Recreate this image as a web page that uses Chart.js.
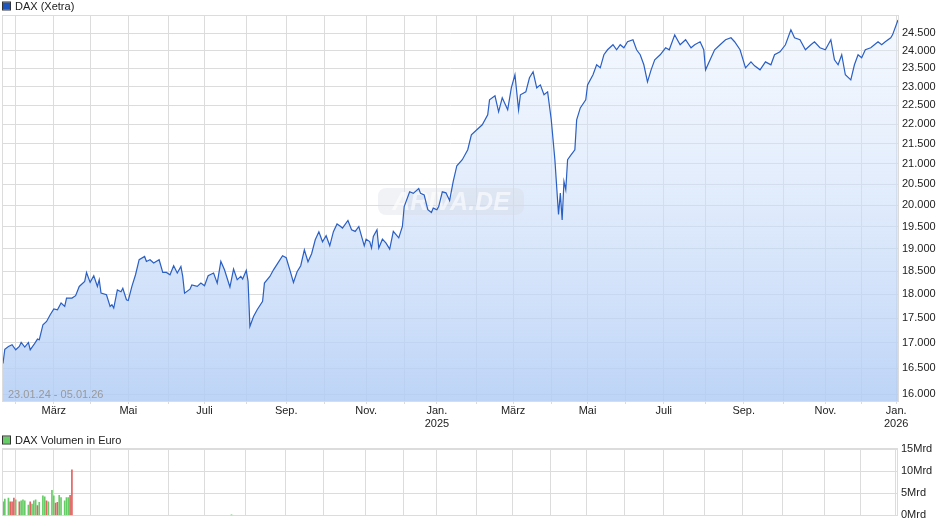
<!DOCTYPE html>
<html>
<head>
<meta charset="utf-8">
<script src="https://cdn.jsdelivr.net/npm/chart.js@4.4.1/dist/chart.umd.min.js"></script>
<style>
  body { margin: 0; background: #fff; }
  #wrap { position: relative; width: 940px; height: 526px; }
  canvas { position: absolute; left: 0; }
</style>
</head>
<body>
<div id="wrap">
  <canvas id="price_plot" width="940" height="430" style="top:0"></canvas>
  <canvas id="volume_plot" width="940" height="96" style="top:430px"></canvas>
</div>
<script>
// trading days between first and last quote (Xetra calendar)
const firstDay = '2024-01-23';
const lastDay = '2026-01-05';
const holidays = ['2024-03-29', '2024-04-01', '2024-05-01', '2024-12-24', '2024-12-25', '2024-12-26',
  '2024-12-31', '2025-01-01', '2025-04-18', '2025-04-21', '2025-05-01', '2025-12-24', '2025-12-25',
  '2025-12-26', '2025-12-31', '2026-01-01'];
const monthNames = ['Jan.', 'Feb.', 'März', 'April', 'Mai', 'Juni', 'Juli', 'Aug.', 'Sep.', 'Okt.', 'Nov.', 'Dez.'];

// DAX closes, x = trading day number since 23.01.24
const priceDay = [0, 1, 3, 5, 7, 9, 10, 12, 14, 15, 17, 19, 20, 22, 24, 26, 28, 30, 32, 34, 35, 38, 40, 42, 45, 46,
  48, 50, 52, 53, 54, 57, 59, 60, 61, 63, 65, 66, 68, 69, 71, 73, 75, 78, 79, 81, 83, 86, 88, 90, 92, 94, 96, 98, 99,
  100, 103, 104, 107, 109, 111, 113, 116, 118, 120, 122, 125, 127, 129, 131, 132, 134, 135, 136, 138, 140, 143, 144,
  147, 149, 152, 154, 156, 158, 160, 162, 164, 166, 168, 170, 172, 174, 176, 178, 180, 182, 184, 186, 187, 190, 192,
  194, 196, 199, 200, 202, 203, 204, 206, 207, 209, 211, 213, 215, 218, 220, 221, 224, 226, 229, 230, 232, 234, 236,
  237, 239, 240, 242, 244, 246, 248, 250, 253, 256, 258, 261, 264, 267, 268, 271, 273, 275, 278, 280, 282, 284, 285,
  288, 290, 292, 294, 296, 298, 300, 302, 304, 306, 307, 308, 309, 310, 311, 313, 315, 316, 318, 321, 322, 325, 327,
  329, 331, 333, 336, 338, 340, 342, 344, 347, 349, 351, 353, 355, 357, 359, 362, 365, 367, 370, 373, 376, 379, 381,
  384, 386, 387, 390, 392, 395, 398, 401, 403, 406, 409, 412, 414, 417, 420, 423, 425, 428, 431, 434, 436, 439, 442,
  445, 447, 450, 453, 456, 458, 460, 462, 464, 467, 469, 471, 473, 475, 478, 480, 482, 484, 486, 489, 490, 493];
const priceVals = [16590, 16870, 16925, 16960, 16860, 16925, 17005, 16913, 17005, 16860, 16960, 17073, 17060, 17365,
  17433, 17571, 17690, 17675, 17815, 17745, 17920, 17920, 17970, 18168, 18276, 18470, 18255, 18400, 18168, 18313,
  18025, 17990, 17745, 17780, 17710, 18093, 18056, 18130, 17885, 17870, 18168, 18420, 18750, 18823, 18712, 18750,
  18677, 18750, 18470, 18470, 18420, 18617, 18457, 18602, 18384, 18025, 18109, 18200, 18168, 18240, 18183, 18400,
  18457, 18240, 18712, 18528, 18155, 18543, 18313, 18384, 18328, 18513, 18276, 17330, 17535, 17675, 17850, 18240,
  18384, 18528, 18712, 18839, 18794, 18528, 18255, 18485, 18617, 18971, 18706, 18883, 19197, 19380, 19152, 19288,
  19060, 19380, 19560, 19500, 19464, 19640, 19425, 19387, 19500, 19060, 19210, 19155, 19010, 19273, 19425, 19010,
  19210, 19120, 18985, 19387, 19240, 19500, 19965, 20315, 20277, 20395, 20277, 20238, 19890, 19825, 19928, 19890,
  19965, 20315, 20290, 20105, 20565, 20950, 21100, 21349, 21730, 21860, 21987, 22250, 22645, 22752, 22327, 22699,
  22380, 22968, 23324, 22380, 22780, 22860, 23241, 23407, 22968, 23048, 22780, 22860, 22118, 21100, 19777, 20284,
  19652, 20564, 20364, 21100, 21225, 21349, 22118, 22430, 22645, 23048, 23324, 23601, 23517, 23882, 24023, 24166,
  24023, 24166, 24080, 24252, 24309, 24023, 23882, 23601, 23130, 23461, 23742, 23882, 24080, 24023, 24450, 24166,
  24309, 24080, 24166, 24252, 24023, 23461, 23798, 24023, 24166, 24309, 24366, 24252, 24023, 23517, 23683, 23572,
  23461, 23683, 23601, 23882, 23966, 24166, 24596, 24366, 24309, 24023, 24166, 24252, 24080, 24023, 24309, 23742,
  23601, 23882, 23324, 23186, 23601, 23882, 23798, 24023, 24080, 24166, 24252, 24166, 24252, 24366, 24450, 24880];

// volume in Mrd Euro, up = index closed higher that day
const volDay = [0, 1, 3, 4, 5, 6, 7, 9, 10, 11, 12, 14, 15, 16, 17, 18, 19, 20, 22, 23, 24, 25, 27, 28, 29, 30, 31,
  32, 34, 35, 36, 37, 38, 126];
const volVals = [3.08, 3.68, 3.9, 3.08, 3.08, 3.9, 3.52, 3.08, 3.3, 3.52, 3.3, 2.35, 3.08, 2.58, 3.3, 3.52, 2.2, 2.94,
  4.4, 4.19, 3.3, 3.08, 5.66, 4.4, 2.8, 2.94, 4.56, 4.04, 3.3, 4.04, 4.04, 4.56, 10.3, 0.15];
const volUp = [false, true, true, false, false, false, true, false, true, true, true, true, false, true, true, true,
  false, true, true, true, false, true, true, true, false, false, true, true, true, true, true, false, false, true];

const priceTicks = [16000, 16500, 17000, 17500, 18000, 18500, 19000, 19500, 20000, 20500, 21000, 21500, 22000,
  22500, 23000, 23500, 24000, 24500];
const volTicks = [0, 5, 10, 15];

Chart.defaults.font.family = '"Liberation Sans", Arial, sans-serif';
Chart.defaults.font.size = 11;
Chart.defaults.color = '#222';

function tradingDays(start, end) {
  let days = [];
  let d = new Date(start + 'T00:00:00Z');
  const stop = new Date(end + 'T00:00:00Z');
  while (d <= stop) {
    let wd = d.getUTCDay();
    let iso = d.toISOString().slice(0, 10);
    if (wd != 0 && wd != 6 && holidays.indexOf(iso) < 0) days.push(iso);
    d.setUTCDate(d.getUTCDate() + 1);
  }
  return days;
}

const days = tradingDays(firstDay, lastDay);
const monthStarts = [];
for (let i = 1; i < days.length; i++) {
  if (days[i].slice(5, 7) != days[i - 1].slice(5, 7)) {
    monthStarts.push({ idx: i, month: parseInt(days[i].slice(5, 7)) - 1, year: days[i].slice(0, 4) });
  }
}

function monthLabel(m) {
  if (m.month % 2 == 1) return '';
  if (m.month == 0) return [monthNames[0], m.year];
  return monthNames[m.month];
}

function fmtThousands(v) {
  return String(v).replace(/\B(?=(\d{3})+(?!\d))/g, '.');
}

function shortDate(iso) {
  return iso.slice(8, 10) + '.' + iso.slice(5, 7) + '.' + iso.slice(2, 4);
}

// small square + text in the top left corner
const boxLegend = {
  id: 'boxLegend',
  afterDraw(chart, args, opts) {
    const ctx = chart.ctx;
    ctx.save();
    ctx.fillStyle = opts.color;
    ctx.fillRect(3, opts.y - 3.5, 7, 7);
    ctx.strokeStyle = '#333';
    ctx.lineWidth = 1;
    ctx.strokeRect(2.5, opts.y - 4, 8, 8);
    ctx.fillStyle = '#222';
    ctx.font = '11px "Liberation Sans", Arial, sans-serif';
    ctx.textBaseline = 'middle';
    ctx.fillText(opts.text, 15, opts.y + 0.5);
    ctx.restore();
  }
};

const plotFrame = {
  id: 'plotFrame',
  beforeDatasetsDraw(chart) {
    const a = chart.chartArea, ctx = chart.ctx;
    ctx.save();
    ctx.strokeStyle = '#dcdcdc';
    ctx.lineWidth = 1;
    ctx.strokeRect(Math.round(a.left) - 0.5, Math.round(a.top) - 0.5, Math.round(a.right - a.left) + 1, Math.round(a.bottom - a.top) + 1);
    ctx.restore();
  }
};

const watermark = {
  id: 'watermark',
  beforeDatasetsDraw(chart) {
    const ctx = chart.ctx;
    ctx.save();
    ctx.fillStyle = 'rgba(215, 218, 225, 0.35)';
    ctx.beginPath();
    ctx.roundRect(378, 188, 146, 27, 8);
    ctx.fill();
    ctx.fillStyle = 'rgba(255, 255, 255, 0.6)';
    ctx.font = 'italic bold 25px "Liberation Sans", Arial, sans-serif';
    ctx.textAlign = 'center';
    ctx.textBaseline = 'middle';
    ctx.fillText('ARIVA.DE', 451, 203);
    ctx.restore();
  },
  afterDatasetsDraw(chart) {
    const ctx = chart.ctx;
    ctx.save();
    ctx.fillStyle = '#999';
    ctx.font = '11px "Liberation Sans", Arial, sans-serif';
    ctx.textBaseline = 'middle';
    ctx.fillText(shortDate(days[0]) + ' - ' + shortDate(days[days.length - 1]), 8, chart.chartArea.bottom - 6);
    ctx.restore();
  }
};

function monthGridX(showLabels) {
  return {
    type: 'linear',
    min: 0,
    max: days.length - 1,
    offset: false,
    afterBuildTicks: (scale) => { scale.ticks = monthStarts.map(m => ({ value: m.idx })); },
    afterFit: (scale) => { scale.height = showLabels ? 29 : 9; },
    grid: { color: '#dcdcdc', tickLength: 3, drawTicks: showLabels, offset: false },
    border: { display: false },
    ticks: {
      display: showLabels,
      autoSkip: false,
      maxRotation: 0,
      padding: 0,
      color: '#222',
      callback: (v, i) => monthLabel(monthStarts[i])
    }
  };
}

function plotPrice() {
  let ctx = document.getElementById('price_plot');
  window.price_plot = new Chart(ctx, {
    type: 'line',
    data: {
      datasets: [{
        label: 'DAX (Xetra)',
        data: priceDay.map((d, i) => ({ x: d, y: priceVals[i] })),
        borderColor: '#2a5fc4',
        borderWidth: 1.2,
        pointRadius: 0,
        tension: 0,
        fill: 'start',
        backgroundColor: (c) => {
          const a = c.chart.chartArea;
          if (!a) return 'rgba(190,212,248,0.5)';
          const g = c.chart.ctx.createLinearGradient(0, a.top, 0, a.bottom);
          g.addColorStop(0, 'rgba(225,236,253,0.35)');
          g.addColorStop(1, 'rgba(178,205,246,0.85)');
          return g;
        }
      }]
    },
    options: {
      responsive: false,
      animation: false,
      layout: { padding: { top: 16, left: 3, right: 0, bottom: 0 } },
      plugins: {
        legend: { display: false },
        tooltip: { enabled: false },
        filler: { drawTime: 'beforeDatasetsDraw' },
        boxLegend: { text: 'DAX (Xetra)', color: '#1f56bd', y: 6 }
      },
      scales: {
        x: monthGridX(true),
        y: {
          type: 'logarithmic',
          position: 'right',
          min: 15870,
          max: 25000,
          afterBuildTicks: (scale) => { scale.ticks = priceTicks.map(v => ({ value: v })); },
          afterFit: (scale) => { scale.width = 42; },
          grid: { color: '#dcdcdc', drawTicks: false },
          border: { display: false },
          ticks: { padding: 4, color: '#222', callback: (v) => fmtThousands(v) }
        }
      }
    },
    plugins: [boxLegend, plotFrame, watermark]
  });
}

function plotVolume() {
  let ctx = document.getElementById('volume_plot');
  window.volume_plot = new Chart(ctx, {
    type: 'bar',
    data: {
      datasets: [{
        label: 'DAX Volumen in Euro',
        data: volDay.map((d, i) => ({ x: d, y: volVals[i] })),
        backgroundColor: volUp.map(u => u ? '#66cc66' : '#e06262'),
        barThickness: 1,
        borderWidth: 0
      }]
    },
    options: {
      responsive: false,
      animation: false,
      layout: { padding: { top: 19, left: 3, right: 0, bottom: 0 } },
      plugins: {
        legend: { display: false },
        tooltip: { enabled: false },
        boxLegend: { text: 'DAX Volumen in Euro', color: '#66cc66', y: 10 }
      },
      scales: {
        x: monthGridX(false),
        y: {
          position: 'right',
          min: 0,
          max: 15,
          afterBuildTicks: (scale) => { scale.ticks = volTicks.map(v => ({ value: v })); },
          afterFit: (scale) => { scale.width = 43; },
          grid: { color: '#dcdcdc', drawTicks: false },
          border: { display: false },
          ticks: { padding: 4, color: '#222', callback: (v) => v + 'Mrd' }
        }
      }
    },
    plugins: [boxLegend, plotFrame]
  });
}

function init() {
  plotPrice();
  plotVolume();
}
window.onload = init;
</script>
</body>
</html>
